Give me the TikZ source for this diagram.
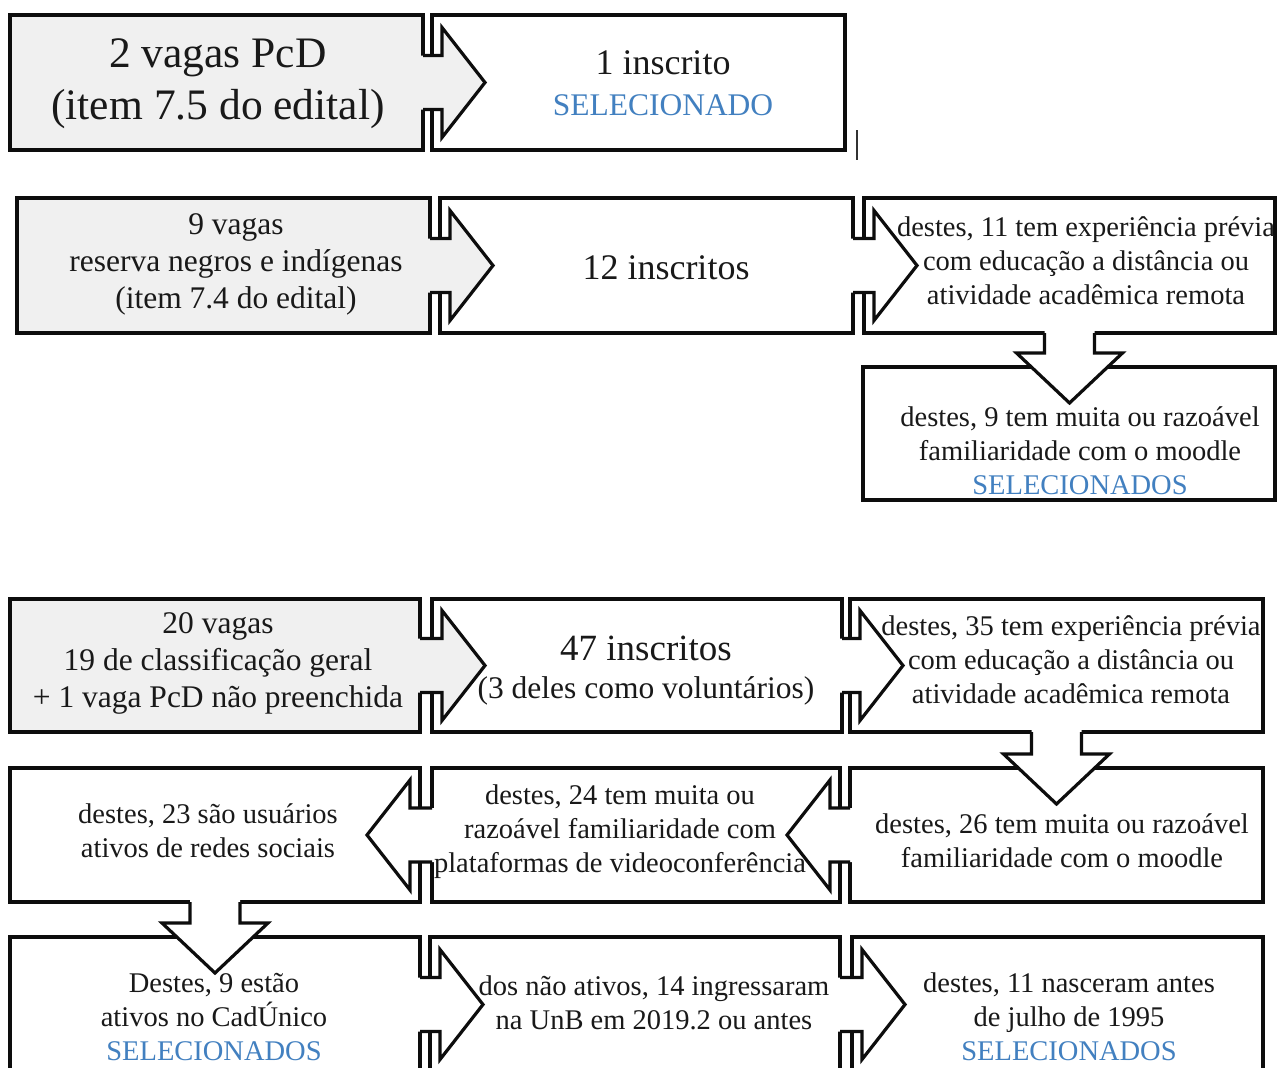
\documentclass[tikz,border=0pt]{standalone}
\usepackage{fontspec}
\setmainfont{Liberation Serif}
\usetikzlibrary{calc}
\usetikzlibrary{fit}
\usetikzlibrary{backgrounds}
\definecolor{selblue}{RGB}{66,128,192}
\definecolor{boxgray}{RGB}{240,240,240}
\definecolor{gapgray}{RGB}{128,128,128}
\newcommand{\selec}[1]{\textcolor{selblue}{#1}}

% block arrow from the right side of #2 into #3
\newcommand{\arrright}[3][white]{%
  \begin{scope}[on background layer]
    \fill[gapgray] (#2.north east) rectangle (#3.south west);
  \end{scope}
  \fill[#1] ($(#2.east)+(-1.8,-27)$) -- ($(#3.west)+(10,-27)$) -- ($(#3.west)+(10,-55)$)
    -- ($(#3.west)+(53,0)$) -- ($(#3.west)+(10,55)$) -- ($(#3.west)+(10,27)$)
    -- ($(#2.east)+(-1.8,27)$) -- cycle;
  \draw[edge] ($(#2.east)+(0,-27)$) -- ($(#3.west)+(10,-27)$) -- ($(#3.west)+(10,-55)$)
    -- ($(#3.west)+(53,0)$) -- ($(#3.west)+(10,55)$) -- ($(#3.west)+(10,27)$)
    -- ($(#2.east)+(0,27)$);
}
% block arrow from the left side of #2 into #3
\newcommand{\arrleft}[3][white]{%
  \begin{scope}[on background layer]
    \fill[gapgray] (#3.north east) rectangle (#2.south west);
  \end{scope}
  \fill[#1] ($(#2.west)+(1.8,-27)$) -- ($(#3.east)+(-10,-27)$) -- ($(#3.east)+(-10,-55)$)
    -- ($(#3.east)+(-53,0)$) -- ($(#3.east)+(-10,55)$) -- ($(#3.east)+(-10,27)$)
    -- ($(#2.west)+(1.8,27)$) -- cycle;
  \draw[edge] ($(#2.west)+(0,-27)$) -- ($(#3.east)+(-10,-27)$) -- ($(#3.east)+(-10,-55)$)
    -- ($(#3.east)+(-53,0)$) -- ($(#3.east)+(-10,55)$) -- ($(#3.east)+(-10,27)$)
    -- ($(#2.west)+(0,27)$);
}
% block arrow from the bottom of #2 into #3
\newcommand{\arrdown}[3][white]{%
  \fill[#1] ($(#2.south)+(-25,-1.8)$) -- ($(#2.south |- #3.north)+(-25,-14)$)
    -- ($(#2.south |- #3.north)+(-53,-14)$) -- ($(#2.south |- #3.north)+(0,36)$)
    -- ($(#2.south |- #3.north)+(53,-14)$) -- ($(#2.south |- #3.north)+(25,-14)$)
    -- ($(#2.south)+(25,-1.8)$) -- cycle;
  \draw[edge] ($(#2.south)+(-25,0)$) -- ($(#2.south |- #3.north)+(-25,-14)$)
    -- ($(#2.south |- #3.north)+(-53,-14)$) -- ($(#2.south |- #3.north)+(0,36)$)
    -- ($(#2.south |- #3.north)+(53,-14)$) -- ($(#2.south |- #3.north)+(25,-14)$)
    -- ($(#2.south)+(25,0)$);
}

\tikzset{
  box/.style={draw=black!95, line width=3.2pt, inner sep=0pt, outer sep=0pt},
  edge/.style={draw=black!95, line width=3.2pt, line join=miter},
  txt/.style={align=center, text=black!90, font=\fontsize{28.5}{34}\selectfont},
  txtA/.style={txt, font=\fontsize{31.5}{37}\selectfont},
}

\begin{document}
\begin{tikzpicture}[x=1pt, y=-1pt]
    \useasboundingbox (0,0) rectangle (1277,1068);
    \fill[white] (0,0) rectangle (1277,1068);

    % boxes: name/left/top/right/bottom/fill
    \foreach \nm/\xa/\ya/\xb/\yb/\col in {
        a1/10/15/423/150/boxgray, b1/432/15/845/150/white,
        a2/17/198/430/333/boxgray, b2/440/198/853/333/white, c2/864/198/1275/333/white,
        d2/863/367/1275/500/white,
        a3/10/599/420/732/boxgray, b3/432/599/842/732/white, c3/850/599/1263/732/white,
        f3/10/768/420/902/white, e3/432/768/840/902/white, d3/850/768/1263/902/white,
        g3/10/937/420/1072/white, h3/430/937/840/1072/white, i3/852/937/1263/1072/white} {
        \node[box, fill=\col, fit={(\xa,\ya) (\xb,\yb)}] (\nm) {};
    }

    % arrows
    \arrright[boxgray]{a1}{b1}
    \arrright[boxgray]{a2}{b2}
    \arrright{b2}{c2}
    \arrdown{c2}{d2}
    \arrright[boxgray]{a3}{b3}
    \arrright{b3}{c3}
    \arrdown{c3}{d3}
    \arrleft{d3}{e3}
    \arrleft{e3}{f3}
    \arrdown{f3}{g3}
    \arrright{g3}{h3}
    \arrright{h3}{i3}

    % texts
    \node[txt, font=\fontsize{43.5}{52}\selectfont] (a1t) at (218,84) {2 vagas PcD\\(item 7.5 do edital)};
    \node[txt] (b1t) at (663,83) {{\fontsize{36}{40}\selectfont 1 inscrito}\\[7pt]{\fontsize{31.5}{38}\selectfont\selec{SELECIONADO}}};
    \node[txtA] (a2t) at (236,264) {9 vagas\\reserva negros e indígenas\\(item 7.4 do edital)};
    \node[txt, font=\fontsize{36}{40}\selectfont] (b2t) at (666,268) {12 inscritos};
    \node[txt] (c2t) at (1086,261) {destes, 11 tem experiência prévia\\com educação a distância ou\\atividade acadêmica remota};
    \node[txt] (d2t) at (1080,451) {destes, 9 tem muita ou razoável\\familiaridade com o moodle\\\selec{SELECIONADOS}};
    \node[txtA] (a3t) at (218,663) {20 vagas\\19 de classificação geral\\+ 1 vaga PcD não preenchida};
    \node[txt] (b3t) at (646,671) {{\fontsize{37}{40}\selectfont 47 inscritos}\\[4pt]{\fontsize{31.5}{38}\selectfont (3 deles como voluntários)}};
    \node[txt] (c3t) at (1071,660) {destes, 35 tem experiência prévia\\com educação a distância ou\\atividade acadêmica remota};
    \node[txt] (d3t) at (1062,841) {destes, 26 tem muita ou razoável\\familiaridade com o moodle};
    \node[txt] (e3t) at (620,832) {destes, 24 tem muita ou\\razoável familiaridade com\\plataformas de videoconferência};
    \node[txt] (f3t) at (208,831) {destes, 23 são usuários\\ativos de redes sociais};
    \node[txt] (g3t) at (214,1017) {Destes, 9 estão\\ativos no CadÚnico\\\selec{SELECIONADOS}};
    \node[txt] (h3t) at (654,1003) {dos não ativos, 14 ingressaram\\na UnB em 2019.2 ou antes};
    \node[txt] (i3t) at (1069,1017) {destes, 11 nasceram antes\\de julho de 1995\\\selec{SELECIONADOS}};

    \draw[line width=1.5pt, black!80] (857,130) -- (857,160);
\end{tikzpicture}
\end{document}
